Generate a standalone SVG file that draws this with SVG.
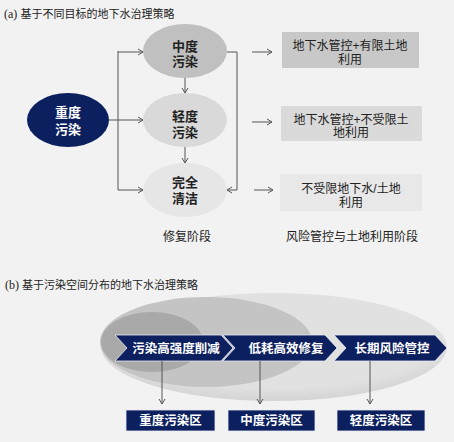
<svg xmlns="http://www.w3.org/2000/svg" width="454" height="442" viewBox="0 0 454 442">
<defs>
<marker id="ah" markerWidth="8" markerHeight="8" refX="7" refY="4" orient="auto" markerUnits="userSpaceOnUse">
<polyline points="2,1 7,4 2,7" fill="none" stroke="#555" stroke-width="1"/>
</marker>
<radialGradient id="g1" cx="0.5" cy="0.4" r="0.6">
<stop offset="0.8" stop-color="#e1e1e1"/>
<stop offset="1" stop-color="#d4d4d4"/>
</radialGradient>
</defs>
<style>
text{font-family:"Liberation Sans","Noto Sans CJK SC",sans-serif;}
.t{font-size:11px;fill:#222;}
.serif{font-family:"Liberation Serif",serif;font-size:12px;}
.el{font-size:13px;font-weight:bold;fill:#222;text-anchor:middle;}
.bx{font-size:12px;fill:#222;text-anchor:middle;}
.wt{font-size:12.5px;font-weight:bold;fill:#fff;text-anchor:middle;}
.ln{fill:none;stroke:#555;stroke-width:1;}
.nav{fill:#0c1f5e;stroke:#e8ecf4;stroke-width:0.8;}
</style>
<rect width="454" height="442" fill="#f2f2f2"/>

<text class="t" x="4" y="18"><tspan class="serif">(a)</tspan> 基于不同目标的地下水治理策略</text>

<g id="n-heavy">
<ellipse cx="68" cy="120" rx="41" ry="27" fill="#0c1f5e"/>
<text class="el" x="68" y="117" style="fill:#fff"><tspan x="68">重度</tspan><tspan x="68" dy="17">污染</tspan></text>
</g>
<g id="n-mid">
<ellipse cx="185" cy="51" rx="42" ry="27" fill="#c0c0c0"/>
<text class="el" x="185" y="50.5"><tspan x="185">中度</tspan><tspan x="185" dy="15.5">污染</tspan></text>
</g>
<g id="n-light">
<ellipse cx="185" cy="120" rx="42" ry="27" fill="#d9d9d9"/>
<text class="el" x="185" y="121"><tspan x="185">轻度</tspan><tspan x="185" dy="15.5">污染</tspan></text>
</g>
<g id="n-clean">
<ellipse cx="185" cy="190" rx="42" ry="27" fill="#e6e6e6"/>
<text class="el" x="185" y="186.5"><tspan x="185">完全</tspan><tspan x="185" dy="16">清洁</tspan></text>
</g>

<g id="b1">
<rect x="282" y="32" width="137" height="36" fill="#c8c8c8"/>
<text class="bx" x="350" y="49.5"><tspan x="350">地下水管控+有限土地</tspan><tspan x="350" dy="14">利用</tspan></text>
</g>
<g id="b2">
<rect x="281" y="106" width="141" height="35" fill="#dadada"/>
<text class="bx" x="351" y="123.5"><tspan x="351">地下水管控+不受限土</tspan><tspan x="351" dy="13.5">地利用</tspan></text>
</g>
<g id="b3">
<rect x="280" y="174" width="142" height="37" fill="#e8e8e8"/>
<text class="bx" x="351" y="192.5"><tspan x="351">不受限地下水/土地</tspan><tspan x="351" dy="14">利用</tspan></text>
</g>

<text class="bx" x="187" y="241">修复阶段</text>
<text class="bx" x="352" y="241">风险管控与土地利用阶段</text>

<g id="connectors-a">
<polyline class="ln" points="118,51 118,190"/>
<line class="ln" x1="118" y1="52" x2="143" y2="52" marker-end="url(#ah)"/>
<line class="ln" x1="109" y1="120" x2="143" y2="120" marker-end="url(#ah)"/>
<line class="ln" x1="118" y1="190" x2="143" y2="190" marker-end="url(#ah)"/>
<line class="ln" x1="185" y1="78" x2="185" y2="93" marker-end="url(#ah)"/>
<line class="ln" x1="185" y1="147" x2="185" y2="163" marker-end="url(#ah)"/>
<polyline class="ln" points="227,52 237,52 237,190 227,190" marker-end="url(#ah)"/>
<line class="ln" x1="252" y1="52" x2="272" y2="52" marker-end="url(#ah)"/>
<line class="ln" x1="252" y1="122" x2="272" y2="122" marker-end="url(#ah)"/>
<line class="ln" x1="254" y1="190" x2="273" y2="190" marker-end="url(#ah)"/>
</g>

<text class="t" x="5" y="289"><tspan class="serif">(b)</tspan> 基于污染空间分布的地下水治理策略</text>

<g id="zones">
<ellipse cx="274" cy="347" rx="173" ry="54" fill="url(#g1)"/>
<ellipse cx="206" cy="342" rx="106" ry="45" fill="#c4c4c4"/>
<ellipse cx="152" cy="342" rx="51" ry="30" fill="#a9a9a9"/>
</g>

<g id="s1">
<polygon class="nav" points="115,335 221,335 233,348 221,361 115,361 127,348"/>
<text class="wt" x="176" y="352.5">污染高强度削减</text>
</g>
<g id="s2">
<polygon class="nav" points="223,335 325,335 337,348 325,361 223,361 235,348"/>
<text class="wt" x="286" y="352.5">低耗高效修复</text>
</g>
<g id="s3">
<polygon class="nav" points="334,335 435,335 447,348 435,361 334,361 346,348"/>
<text class="wt" x="392" y="352.5">长期风险管控</text>
</g>

<g id="z1">
<rect class="nav" x="126" y="410" width="89" height="21"/>
<text class="wt" x="170.5" y="425">重度污染区</text>
</g>
<g id="z2">
<rect class="nav" x="228" y="410" width="87" height="21"/>
<text class="wt" x="271.5" y="425">中度污染区</text>
</g>
<g id="z3">
<rect class="nav" x="337" y="410" width="88" height="21"/>
<text class="wt" x="381" y="425">轻度污染区</text>
</g>

<g id="connectors-b">
<line class="ln" x1="162" y1="361" x2="162" y2="404" marker-end="url(#ah)"/>
<line class="ln" x1="260" y1="361" x2="260" y2="404" marker-end="url(#ah)"/>
<line class="ln" x1="370" y1="361" x2="370" y2="404" marker-end="url(#ah)"/>
</g>
</svg>
